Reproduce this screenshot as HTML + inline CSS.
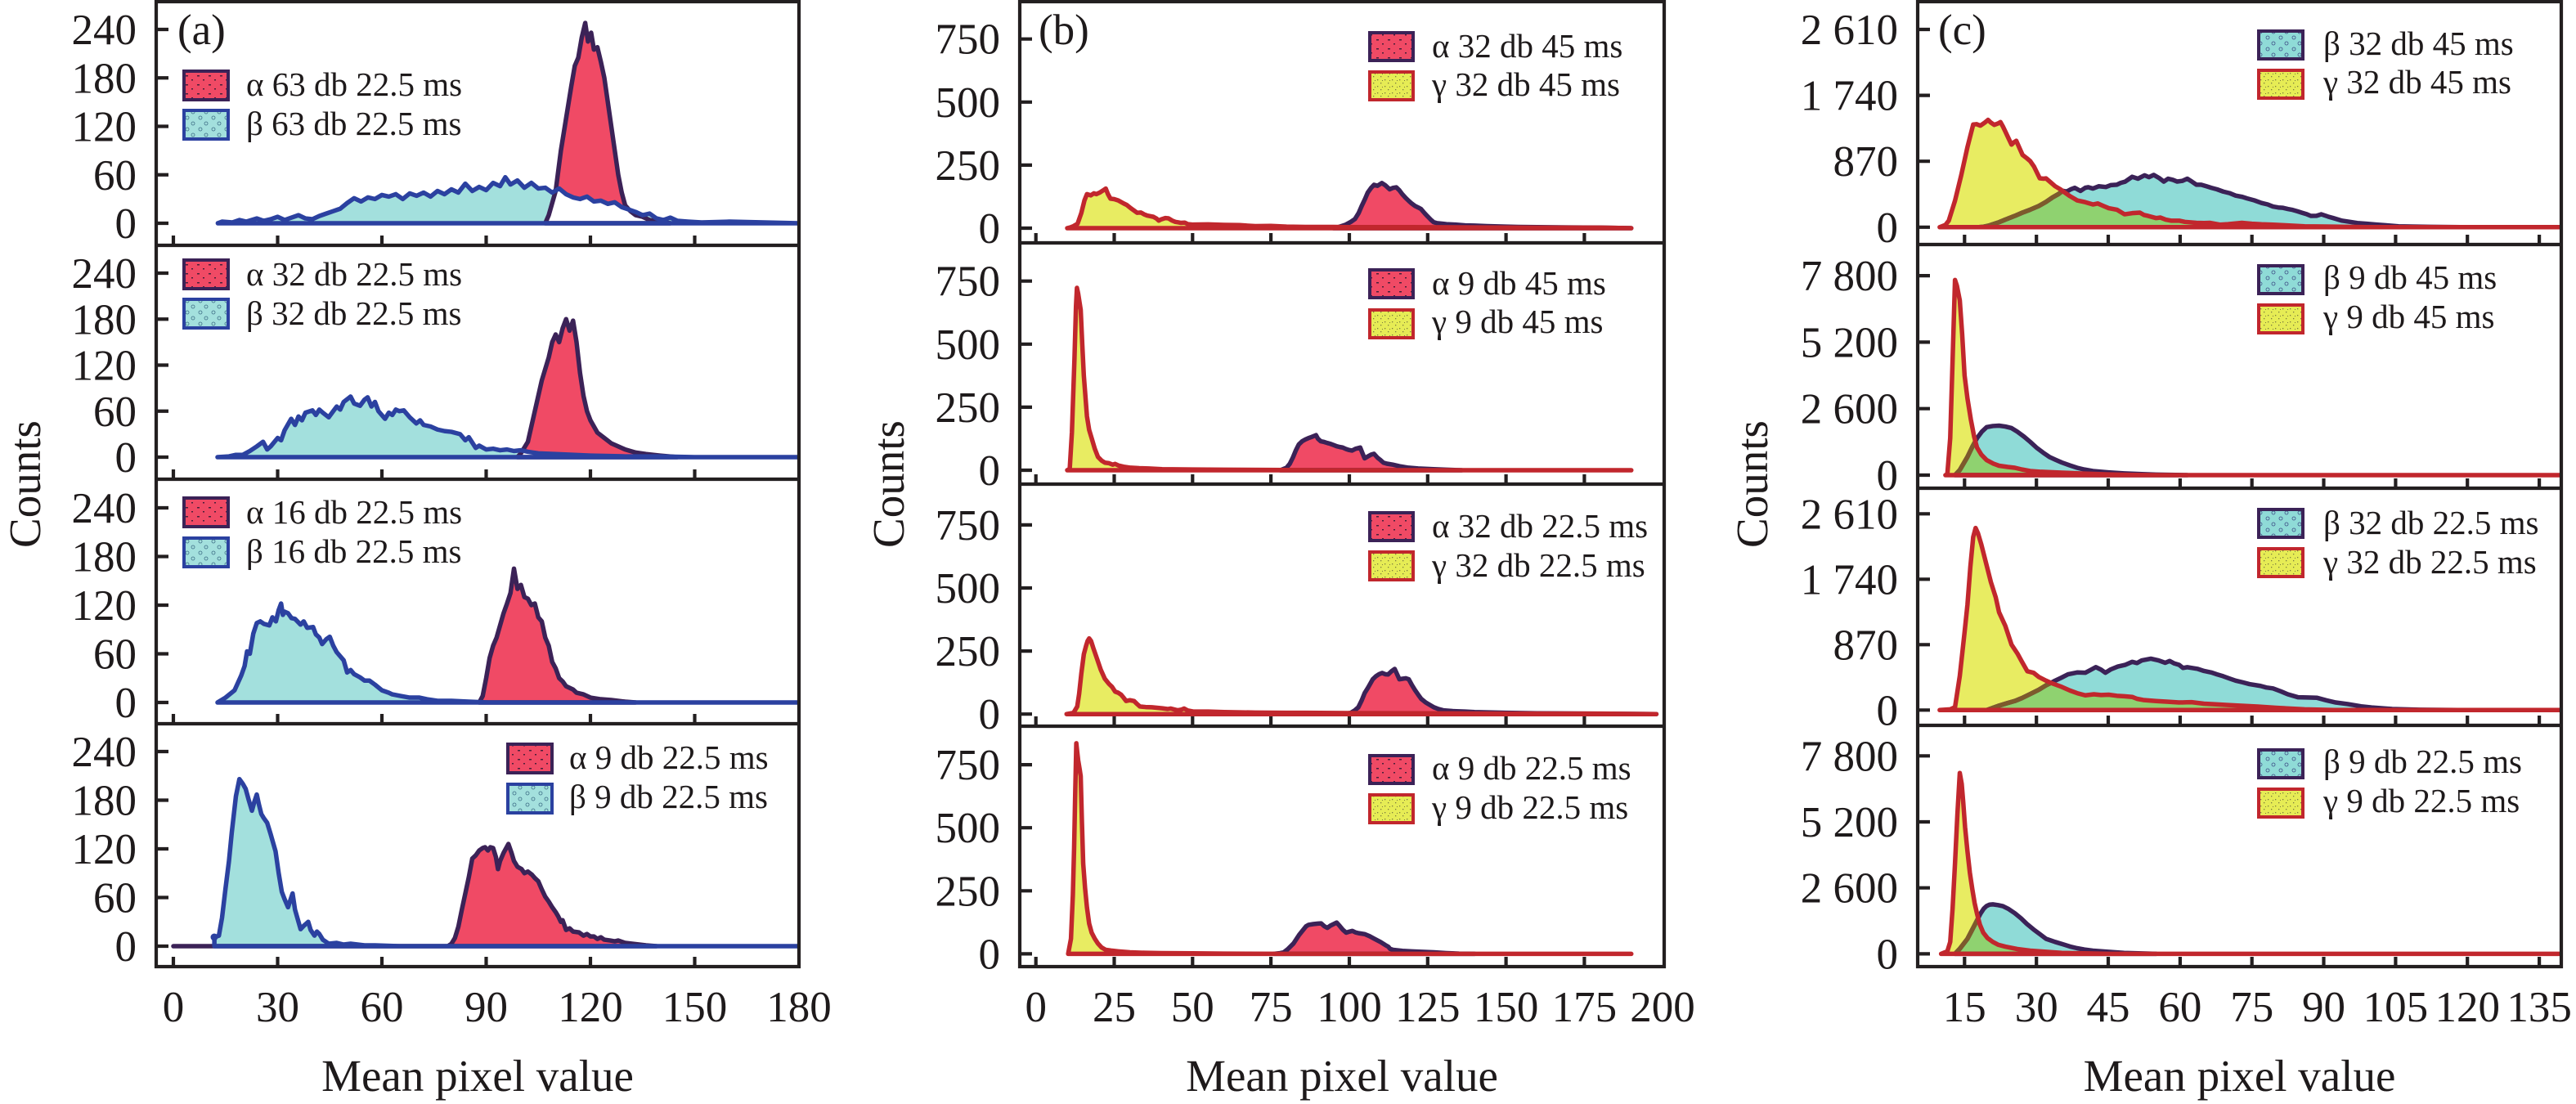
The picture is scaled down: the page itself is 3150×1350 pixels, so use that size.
<!DOCTYPE html>
<html>
<head>
<meta charset="utf-8">
<style>
html,body{margin:0;padding:0;background:#fff;}
svg{display:block;}
text{font-family:"Liberation Serif","DejaVu Serif",serif;fill:#1e1a1b;}
</style>
</head>
<body>
<svg xmlns="http://www.w3.org/2000/svg" width="3150" height="1350" viewBox="0 0 3150 1350">
<defs>
  <pattern id="pRed" width="14" height="11" patternUnits="userSpaceOnUse">
    <rect width="14" height="11" fill="#f04a65"/>
    <rect x="3" y="4" width="3" height="1.5" fill="#4a1f3a"/>
    <rect x="10" y="9" width="2" height="1.5" fill="#4a1f3a"/>
  </pattern>
  <pattern id="pTeal" width="16" height="14" patternUnits="userSpaceOnUse">
    <rect width="16" height="14" fill="#a3e0dd"/>
    <circle cx="5" cy="4" r="2" fill="none" stroke="#3d6d86" stroke-width="0.8"/>
    <circle cx="12" cy="11" r="2" fill="none" stroke="#3d6d86" stroke-width="0.8"/>
  </pattern>
  <pattern id="pTeal2" width="16" height="14" patternUnits="userSpaceOnUse">
    <rect width="16" height="14" fill="#8fdbd7"/>
    <circle cx="5" cy="4" r="2" fill="none" stroke="#3d4d86" stroke-width="0.8"/>
    <circle cx="12" cy="11" r="2" fill="none" stroke="#3d4d86" stroke-width="0.8"/>
  </pattern>
  <pattern id="pYel" width="9" height="8" patternUnits="userSpaceOnUse">
    <rect width="9" height="8" fill="#e6ec55"/>
    <rect x="1" y="1" width="1.3" height="1.3" fill="#7a7a40"/>
    <rect x="5" y="5" width="1.3" height="1.3" fill="#7a7a40"/>
    <rect x="7" y="2" width="1" height="1" fill="#7a7a40"/>
  </pattern>

  <!-- panel a series -->
  <polygon id="A1b" vector-effect="non-scaling-stroke" stroke-width="5.5" stroke-linejoin="round" points="12.8,0 14,2 17,1 19,4 21,2 24,6 26,3 28,5 30,8 32,4 34,7 36,10 38,6 40,5 42,9 44,12 46,15 48,18 50,25 52,31 54,27 56,32 58,30 60,35 62,33 64,36 66,30 68,37 70,34 72,38 74,33 76,40 78,36 80,42 82,38 84,49 86,40 88,45 90,41 92,50 94,46 95.5,57 97,48 99,53 101,44 103,50 105,43 107,44 109,38 111,43 113,36 115,32 117,30 119,33 121,27 123,28 125,24 127,26 129,20 131,17 133,14 135,10 137,12 139,6 141,4 143,7 145,3 148,2 152,1 160,2 170,1 180,0"/>
  <polygon id="A1a" vector-effect="non-scaling-stroke" stroke-width="5.5" stroke-linejoin="round" points="107,0 108,10 110,40 111.5,90 113,130 114.5,170 115.5,195 116.5,205 117.5,230 118.5,248 119.3,225 120.2,236 121,215 122,218 123,200 124,180 125,150 126,120 127,90 128,60 129,38 130,22 131.5,15 133,10 135,8 137,4 140,2 143,0"/>
  <polygon id="A2b" vector-effect="non-scaling-stroke" stroke-width="5.5" stroke-linejoin="round" points="12.7,0 16,1 18,3 20,3 22,8 24,14 25.8,20 27,10 28,14 30,25 31,22 32,35 33.9,50 35,42 36,53 37,48 38,58 40,61 41,55 42,62 43,58 44.7,52 46,60 47,66 48,62 49,72 51,79 52,70 53.7,67 55,75 55.9,78 57,66 58,72 59,60 60.9,50 62,58 63,55 64,62 65,60 66.3,61 68,52 69.9,44 71,48 72,42 74,40 76,36 78,34 80,33 82.5,30 84,22 85,26 87,12 88,15 90,10 92,11 94,9 96,10 98,8 100,9 102,7 105,5 110,4 120,2 130,1 140,1 150,0 180,0"/>
  <polygon id="A2a" vector-effect="non-scaling-stroke" stroke-width="5.5" stroke-linejoin="round" points="99,0 100,5 102,20 104,60 106,100 108,130 109,150 110,160 111,150 112,168 113,180 114,165 115,178 116,150 117,110 118,80 119,60 120,48 121,40 122,32 124,25 126,18 128,14 130,10 133,6 136,4 140,2 145,0"/>
  <polygon id="A3b" vector-effect="non-scaling-stroke" stroke-width="5.5" stroke-linejoin="round" points="12.7,0 15,6 17.6,15 19.5,33 20.5,45 21.2,63 22,60 23,85 24,98 25,100 26,97 27.6,95 28.5,105 29.5,100 30.3,114 31,122 31.5,108 32,112 33,110 34,104 35,103 36.6,96 37.5,100 38.5,92 40.2,93 41,84 42,80 42.8,72 44,78 45,81 46,70 47,62 49,52 50,37 51,40 52,35 53.7,31 55,27 56.4,27 58,22 60,15 62,12 63,10 65.4,8 68,6 70.8,6 73,4 76,2 80,2 85,1 90.6,0 180,0"/>
  <polygon id="A3a" vector-effect="non-scaling-stroke" stroke-width="5.5" stroke-linejoin="round" points="88,0 89,8 90,30 91,55 92,70 93,80 94,95 95,110 96,122 97,135 98,165 99,140 100,145 101,130 102,128 103,120 104,122 105,105 106,100 107,80 108,70 109,50 110,42 111,30 112,26 113,20 115,16 116,12 118,10 120,6 123,4 126,3 130,1 133,0"/>
  <polygon id="A4b" vector-effect="non-scaling-stroke" stroke-width="5.5" stroke-linejoin="round" points="11.8,0 11.8,11 13.1,13 14,35 15,71 16,105 16.8,140 18,185 19,206 20,200 20.8,194 21.7,180 22.6,167 23.3,178 24,187 24.6,175 25.3,163 26,158 27,152 28,138 29.4,117 30.3,90 31.2,67 32,58 33,48 34.3,65 35,45 36,30 36.6,21 37.5,25 38.8,30 39.5,20 40.6,13 41.3,18 42,15 43,8 44.7,3 47,4 49,2 51,3 55,1 58,1 65,0 180,0"/>
  <polygon id="A4a" vector-effect="non-scaling-stroke" stroke-width="5.5" stroke-linejoin="round" points="0,0 79,0 80,3 81,10 82,24 83,45 84,65 85,85 86,108 87,112 88,118 89,121 89.7,122 90.5,118 91.2,122 92,121 92.8,110 93.4,95 94,105 95,115 96.4,126 97.3,115 98,105 99,98 100.2,95 101,90 102,92 103.2,88 104,84 105,80 106,70 107,61 108,55 109,48 110,42 110.7,37 111.5,30 112,32 113,20 114,22 115,18 116.7,17 118,13 119,15 120,12 121,12 122,9 123,11 124,8 125.7,7 127,6 128,7 130,4 132,3 134,2 136,1 139,0"/>

  <!-- panel b series -->
  <polygon id="B1g" vector-effect="non-scaling-stroke" stroke-width="5.5" stroke-linejoin="round" points="10,0 11,3 12,8 13.3,17.5 14.5,60 15.5,110 16.3,135 17.5,130 18.5,138 19.3,135 20.5,142 21.5,150 22.3,157 23,135 23.8,117 25,115 26.3,110 27,105 28,98 29,92 30.3,79 31.3,70 32.3,61 33.5,62 34.5,55 35.5,50 36.3,48 37.5,45 38.5,38 39.2,30 40,35 41.3,40 42.3,39 43.5,30 44.5,25 45.5,23 46.3,21 47.5,22 48.5,16 50.2,14 55,15 60,13 65,12 70,8 75,9 80,6 86,5 95,5 100,4 110,4 120,4 140,3 160,2 180,2 190,0"/>
  <polygon id="B1a" vector-effect="non-scaling-stroke" stroke-width="5.5" stroke-linejoin="round" points="95,0 97,6 98.9,14 100.5,25 101.8,36 103,60 103.9,86 105,115 105.9,141 107,160 107.9,172 109,168 110.4,179 111.5,170 112.9,154 114,160 115,162 116,150 116.9,135 118,120 119,108 119.9,98 121,88 122,82 122.9,76 124,60 124.9,48 126,34 126.9,24 128,20 129.9,17.5 131,16 133.8,14 137,11 140,10 143.9,8 150,6 153.9,5 160,4 170,3 180,2 190,0"/>
  <polygon id="B2g" vector-effect="non-scaling-stroke" stroke-width="5.5" stroke-linejoin="round" points="10,0 10.8,5 11.5,150 12.3,437 12.8,650 13.1,723 13.5,700 14.3,636 14.8,500 15.3,375 16.3,214 17,160 17.8,127 18.8,85 19.8,53 21,38 22,30 23.3,28 24.5,22 25.3,25 26.3,19 28,14 30.2,10 33,8 36,7 40.3,4 50,3 60,2 80,1 90,0 190,0"/>
  <polygon id="B2a" vector-effect="non-scaling-stroke" stroke-width="5.5" stroke-linejoin="round" points="78,0 80,10 81,25 82,50 83,80 83.9,102 85,115 86,122 86.9,127 88,132 89.4,139 90,125 90.9,115 92,112 93,108 93.9,105 95,100 96,95 97,92 97.9,90 99,84 100,80 100.9,78 102,85 103.5,90 104.2,68 104.9,47 106,55 107,62 107.9,65 109,50 110,40 110.9,30 112,26 113,24 113.9,22 116,16 118.9,10 122,7 126.9,4 131,2 135.9,0"/>
  <polygon id="B3g" vector-effect="non-scaling-stroke" stroke-width="5.5" stroke-linejoin="round" points="9.8,0 12,5 13.2,30 13.8,80 14.5,160 15.3,237 16,270 16.5,290 17,300 17.6,290 18.3,263 19.5,220 20.7,176 22,140 23.3,120 24.3,108 25.3,89 26.2,85 27.2,77 28,65 28.8,52 30,55 31.3,52 32.3,40 33.2,30 35,28 37,27 40.3,23 42,20 43,22 45.2,15 46.5,18 47.3,22 48.5,14 50.2,10 55,10 60,8 70,6 80,5 86,5 100,4 120,3 150,2 180,2 198,0"/>
  <polygon id="B3a" vector-effect="non-scaling-stroke" stroke-width="5.5" stroke-linejoin="round" points="98,0 100.5,5 101.8,15 102.9,27 104,55 104.9,83 106,105 107.5,138 108.5,150 109.5,158 110.5,163 111.5,158 112.4,157 113.5,170 114.5,179 115.2,160 116,138 117,140 118,142 119,138 120,115 121,95 122,77 123,60 124.4,46 125.5,38 127,27 128.5,20 130,15 133,12 137,10 140,8 150,5 160,3 175,2 198,0"/>
  <polygon id="B4g" vector-effect="non-scaling-stroke" stroke-width="5.5" stroke-linejoin="round" points="10.3,0 11.2,60 11.8,233 12.2,420 12.5,605 12.9,835 13.2,800 13.5,767 14,730 14.3,705 14.7,520 15.1,358 15.7,260 16.3,184 17,120 17.8,84 18.8,60 19.8,41 21,25 22.3,16 24,13 26.3,10 30,6 35,4 40,3 50,2 60,1 80,0 190,0"/>
  <polygon id="B4a" vector-effect="non-scaling-stroke" stroke-width="5.5" stroke-linejoin="round" points="76,0 78,3 79.1,6 80.5,20 82.2,41 84,75 86.2,109 87,115 88.5,118 90,120 91,121 92,110 93,103 94,112 95,118 96,124 97,110 98,95 99,84 100,88 101,91 102,85 103,82 105,78 106.5,70 108,60 110,47 111.5,35 112.5,28 113,20 114,16 115.5,14 117,12 120,10 123,8 127,6 131,3 135,1 140,0"/>

  <!-- panel c series -->
  <polygon id="C1g" vector-effect="non-scaling-stroke" stroke-width="5.5" stroke-linejoin="round" points="9.8,0 11,30 11.7,86 13,350 14.3,685 15.6,1057 16.8,1355 17.5,1360 18.3,1340 19.2,1380 19.9,1416 20.5,1380 21.2,1350 22,1370 22.5,1387 23,1330 23.5,1264 24.2,1170 24.8,1090 25.3,1120 25.8,1140 26.5,1040 27.1,954 28,910 28.7,872 29.5,800 30.7,645 31.5,640 32,644 33,590 33.9,541 35,500 35.9,458 37,410 38.5,354 40.2,330 41.8,300 42.8,313 44,280 45.1,251 46.8,231 48.4,170 50,185 51.6,192 52.5,160 53.3,149 55,120 55.9,127 57,100 58.1,86 59.8,86 61,70 63.4,57 65,55 66.3,57 68.3,33 70,40 72.9,57 75,45 77,38 79.4,33 82,25 86,12 90,8 95,4 99,0 141,0"/>
  <polygon id="C1b" vector-effect="non-scaling-stroke" stroke-width="5.5" stroke-linejoin="round" points="18,0 18.9,5 20,20 22.2,66 23.5,100 25.5,149 27,190 28.7,231 30.5,280 32,334 33.3,390 34.6,437 35.5,480 36.3,470 37.2,500 38,520 39.2,478 40.2,520 40.8,528 41.8,510 43,540 44.5,530 45.5,555 46.8,561 47.6,585 48.5,600 50,665 51.2,640 52.6,685 53.5,660 54.5,690 55.6,650 56.6,602 57.5,640 58.5,625 59.4,602 60.5,612 61.5,640 62.5,600 63.4,561 64.4,561 65.5,540 66.5,520 67.7,500 69,470 70.3,450 71.6,417 73,400 74,380 75.5,354 77,320 78.3,300 79.4,272 80.5,260 81.5,255 82.5,240 83.3,231 84.5,210 85.5,190 86.5,170 87.3,149 88.5,150 89.5,170 90.9,140 92,120 93.8,86 95.5,70 97,55 99,45 101,35 103,25 105.6,12 108,8 112,4 118.6,0"/>
  <polygon id="C2g" vector-effect="non-scaling-stroke" stroke-width="5.5" stroke-linejoin="round" points="11,0 11.4,40 12,1446 12.5,4500 13,7630 13.4,7400 14,6833 14.5,5500 15,3896 15.6,3000 16.3,2182 17,1500 17.6,1078 18.5,800 19.6,589 21,450 22.2,368 24,320 25.5,288 27,220 28.7,160 31,130 35.3,96 40,60 45,30 50,10 55,0 141,0"/>
  <polygon id="C2b" vector-effect="non-scaling-stroke" stroke-width="5.5" stroke-linejoin="round" points="13,0 14,200 15.6,713 16.6,1100 17.6,1446 18.6,1700 19.6,1875 20.9,1920 22.2,1935 23.5,1900 24.8,1839 26,1700 27.4,1507 28.7,1300 30,1078 31.4,880 32.7,713 34,600 35.3,493 37,380 38.5,288 40,220 41.8,160 45,110 48.3,70 52,40 55,20 61.5,0"/>
  <polygon id="C3g" vector-effect="non-scaling-stroke" stroke-width="5.5" stroke-linejoin="round" points="9.8,0 12,10 13,38 14,454 15,1036 15.6,1400 16.2,1900 16.8,2300 17.3,2420 17.8,2350 18.5,2200 19.5,1950 20.5,1700 21.5,1500 22.2,1300 23.5,1120 24.8,870 26.1,745 27,640 28.1,516 29.4,496 30.5,440 32,391 33.5,350 35.3,308 37,260 38.5,225 40.2,196 42,210 43.5,200 45.1,204 46.8,190 48.3,184 50,175 51,150 52.3,134 55,120 57.5,110 59.8,101 61.4,104 62.4,105 65,85 67,78 69.6,68 72,60 76.2,47 80,30 86,10 92,0 141,0"/>
  <polygon id="C3b" vector-effect="non-scaling-stroke" stroke-width="5.5" stroke-linejoin="round" points="19.6,0 22.2,59 23.8,90 25.5,121 27,160 28.7,213 30.5,270 32,329 33,360 33.9,391 35.2,430 36.6,475 38.5,500 40.2,496 41.5,540 42.4,571 43.5,537 44.4,496 45.5,540 47,579 48.5,600 50,641 51,625 52,660 53.9,683 55.5,660 56.9,628 57.8,653 58.8,620 59.8,601 60.6,560 61.5,570 62.5,560 63.7,547 65,520 66.5,500 67.7,475 69,450 70.3,420 71.6,391 73,370 74.5,345 76.8,321 78,300 79.4,288 81,250 82.5,210 84.6,171 86.5,168 88.6,163 90.5,130 92.5,101 95,80 97.8,50 100,35 104.3,14 110,5 118,0"/>
  <polygon id="C4g" vector-effect="non-scaling-stroke" stroke-width="5.5" stroke-linejoin="round" points="10.1,0 11.4,100 12,470 12.5,1800 13,3558 13.5,5500 14,7128 14.4,6700 14.7,6020 15.1,5000 15.6,4044 16.1,3200 16.6,2565 17.1,2000 17.6,1579 18.2,1150 18.9,838 19.8,620 20.9,470 22,360 23.5,284 26,190 28.7,126 32,80 35.3,39 40,20 45,0 141,0"/>
  <polygon id="C4b" vector-effect="non-scaling-stroke" stroke-width="5.5" stroke-linejoin="round" points="13,0 14,200 15.6,593 17,1100 18.3,1579 19,1780 19.6,1888 20.2,1940 20.9,1950 22,1920 23,1880 24.2,1766 25.5,1600 26.8,1398 28,1180 29.4,963 30.7,780 32,593 33,530 33.9,470 35.5,380 37,290 38.5,222 40,170 41.8,126 45,80 48.3,39 52,15 55,0"/>

  <clipPath id="oA1"><use href="#A1b"/></clipPath>
  <clipPath id="oA2"><use href="#A2b"/></clipPath>
  <clipPath id="oA3"><use href="#A3b"/></clipPath>
  <clipPath id="oA4"><use href="#A4b"/></clipPath>
  <clipPath id="oC1"><use href="#C1g"/></clipPath>
  <clipPath id="oC2"><use href="#C2g"/></clipPath>
  <clipPath id="oC3"><use href="#C3g"/></clipPath>
  <clipPath id="oC4"><use href="#C4g"/></clipPath>

  <clipPath id="fa1"><rect x="191" y="2" width="786" height="298"/></clipPath>
  <clipPath id="fa2"><rect x="191" y="300" width="786" height="286"/></clipPath>
  <clipPath id="fa3"><rect x="191" y="586" width="786" height="299"/></clipPath>
  <clipPath id="fa4"><rect x="191" y="885" width="786" height="297"/></clipPath>
  <clipPath id="fb1"><rect x="1247" y="2" width="788" height="295"/></clipPath>
  <clipPath id="fb2"><rect x="1247" y="297" width="788" height="295"/></clipPath>
  <clipPath id="fb3"><rect x="1247" y="592" width="788" height="296"/></clipPath>
  <clipPath id="fb4"><rect x="1247" y="888" width="788" height="294"/></clipPath>
  <clipPath id="fc1"><rect x="2345" y="2" width="787" height="297"/></clipPath>
  <clipPath id="fc2"><rect x="2345" y="299" width="787" height="298"/></clipPath>
  <clipPath id="fc3"><rect x="2345" y="597" width="787" height="290"/></clipPath>
  <clipPath id="fc4"><rect x="2345" y="887" width="787" height="295"/></clipPath>
</defs>

<rect width="3150" height="1350" fill="#fff"/>

<!-- PANEL A -->
<g clip-path="url(#fa1)"><g transform="translate(212,273) scale(4.25,-0.9875)">
  <use href="#A1b" fill="#a3e0dd"/>
  <use href="#A1a" fill="#f04a65"/>
  <use href="#A1a" fill="#ffffff" clip-path="url(#oA1)"/>
  <use href="#A1a" fill="none" stroke="#3b2257"/>
  <use href="#A1b" fill="none" stroke="#2b41a0"/>
</g></g>
<g clip-path="url(#fa2)"><g transform="translate(212,559) scale(4.25,-0.9375)">
  <use href="#A2b" fill="#a3e0dd"/>
  <use href="#A2a" fill="#f04a65"/>
  <use href="#A2a" fill="#ffffff" clip-path="url(#oA2)"/>
  <use href="#A2a" fill="none" stroke="#3b2257"/>
  <use href="#A2b" fill="none" stroke="#2b41a0"/>
</g></g>
<g clip-path="url(#fa3)"><g transform="translate(212,859) scale(4.25,-0.9917)">
  <use href="#A3b" fill="#a3e0dd"/>
  <use href="#A3a" fill="#f04a65"/>
  <use href="#A3a" fill="#ffffff" clip-path="url(#oA3)"/>
  <use href="#A3a" fill="none" stroke="#3b2257"/>
  <use href="#A3b" fill="none" stroke="#2b41a0"/>
</g></g>
<g clip-path="url(#fa4)"><g transform="translate(212,1157) scale(4.25,-0.9917)">
  <use href="#A4b" fill="#a3e0dd"/>
  <use href="#A4a" fill="#f04a65"/>
  <use href="#A4a" fill="#ffffff" clip-path="url(#oA4)"/>
  <use href="#A4a" fill="none" stroke="#3b2257"/>
  <use href="#A4b" fill="none" stroke="#2b41a0"/>
</g></g>
<circle cx="262" cy="1146" r="4.5" fill="#2b41a0"/>

<!-- PANEL B -->
<g clip-path="url(#fb1)"><g transform="translate(1266.7,279) scale(3.832,-0.3084)">
  <use href="#B1a" fill="#f04a65"/>
  <use href="#B1g" fill="#e8ec62"/>
  <use href="#B1a" fill="none" stroke="#3b2257"/>
  <use href="#B1g" fill="none" stroke="#c1272d"/>
</g></g>
<g clip-path="url(#fb2)"><g transform="translate(1266.7,575) scale(3.832,-0.3084)">
  <use href="#B2a" fill="#f04a65"/>
  <use href="#B2g" fill="#e8ec62"/>
  <use href="#B2a" fill="none" stroke="#3b2257"/>
  <use href="#B2g" fill="none" stroke="#c1272d"/>
</g></g>
<g clip-path="url(#fb3)"><g transform="translate(1266.7,873.2) scale(3.832,-0.3084)">
  <use href="#B3a" fill="#f04a65"/>
  <use href="#B3g" fill="#e8ec62"/>
  <use href="#B3a" fill="none" stroke="#3b2257"/>
  <use href="#B3g" fill="none" stroke="#c1272d"/>
</g></g>
<g clip-path="url(#fb4)"><g transform="translate(1266.7,1166.4) scale(3.832,-0.3084)">
  <use href="#B4a" fill="#f04a65"/>
  <use href="#B4g" fill="#e8ec62"/>
  <use href="#B4a" fill="none" stroke="#3b2257"/>
  <use href="#B4g" fill="none" stroke="#c1272d"/>
</g></g>

<!-- PANEL C -->
<g clip-path="url(#fc1)"><g transform="translate(2314.5,277.8) scale(5.856,-0.09264)">
  <use href="#C1b" fill="#8fdbd7"/>
  <use href="#C1g" fill="#e8ec62"/>
  <use href="#C1b" fill="#8fd270" clip-path="url(#oC1)"/>
  <use href="#C1b" fill="none" stroke="#3b2257"/>
  <use href="#C1b" fill="none" stroke="#7d5a2c" clip-path="url(#oC1)"/>
  <use href="#C1g" fill="none" stroke="#c1272d"/>
</g></g>
<g clip-path="url(#fc2)"><g transform="translate(2314.5,581) scale(5.856,-0.03128)">
  <use href="#C2b" fill="#8fdbd7"/>
  <use href="#C2g" fill="#e8ec62"/>
  <use href="#C2b" fill="#8fd270" clip-path="url(#oC2)"/>
  <use href="#C2b" fill="none" stroke="#3b2257"/>
  <use href="#C2b" fill="none" stroke="#7d5a2c" clip-path="url(#oC2)"/>
  <use href="#C2g" fill="none" stroke="#c1272d"/>
</g></g>
<g clip-path="url(#fc3)"><g transform="translate(2314.5,868.3) scale(5.856,-0.092)">
  <use href="#C3b" fill="#8fdbd7"/>
  <use href="#C3g" fill="#e8ec62"/>
  <use href="#C3b" fill="#8fd270" clip-path="url(#oC3)"/>
  <use href="#C3b" fill="none" stroke="#3b2257"/>
  <use href="#C3b" fill="none" stroke="#7d5a2c" clip-path="url(#oC3)"/>
  <use href="#C3g" fill="none" stroke="#c1272d"/>
</g></g>
<g clip-path="url(#fc4)"><g transform="translate(2314.5,1166.4) scale(5.856,-0.03103)">
  <use href="#C4b" fill="#8fdbd7"/>
  <use href="#C4g" fill="#e8ec62"/>
  <use href="#C4b" fill="#8fd270" clip-path="url(#oC4)"/>
  <use href="#C4b" fill="none" stroke="#3b2257"/>
  <use href="#C4b" fill="none" stroke="#7d5a2c" clip-path="url(#oC4)"/>
  <use href="#C4g" fill="none" stroke="#c1272d"/>
</g></g>

<!-- FRAMES & TICKS -->
<g fill="none" stroke="#231f20" stroke-width="4.2">
  <rect x="191" y="2" width="786" height="1180"/>
  <path d="M191,300H977M191,586H977M191,885H977"/>
  <path d="M191,273h15M191,213.75h15M191,154.5h15M191,95.25h15M191,36h15
           M191,559h15M191,502.75h15M191,446.5h15M191,390.25h15M191,334h15
           M191,859h15M191,799.5h15M191,740h15M191,680.5h15M191,621h15
           M191,1157h15M191,1097.5h15M191,1038h15M191,978.5h15M191,919h15"/>
  <path d="M212,300v-12M339.5,300v-12M467,300v-12M594.5,300v-12M722,300v-12M849.5,300v-12
           M212,586v-12M339.5,586v-12M467,586v-12M594.5,586v-12M722,586v-12M849.5,586v-12
           M212,885v-12M339.5,885v-12M467,885v-12M594.5,885v-12M722,885v-12M849.5,885v-12
           M212,1182v-12M339.5,1182v-12M467,1182v-12M594.5,1182v-12M722,1182v-12M849.5,1182v-12"/>

  <rect x="1247" y="2" width="788" height="1180"/>
  <path d="M1247,297H2035M1247,592H2035M1247,888H2035"/>
  <path d="M1247,279h15M1247,201.9h15M1247,124.8h15M1247,47.7h15
           M1247,575h15M1247,497.9h15M1247,420.8h15M1247,343.7h15
           M1247,873.2h15M1247,796.1h15M1247,719h15M1247,641.9h15
           M1247,1166.4h15M1247,1089.3h15M1247,1012.2h15M1247,935.1h15"/>
  <path d="M1266.7,297v-12M1362.5,297v-12M1458.3,297v-12M1554.1,297v-12M1650,297v-12M1745.8,297v-12M1841.6,297v-12M1937.4,297v-12
           M1266.7,592v-12M1362.5,592v-12M1458.3,592v-12M1554.1,592v-12M1650,592v-12M1745.8,592v-12M1841.6,592v-12M1937.4,592v-12
           M1266.7,888v-12M1362.5,888v-12M1458.3,888v-12M1554.1,888v-12M1650,888v-12M1745.8,888v-12M1841.6,888v-12M1937.4,888v-12
           M1266.7,1182v-12M1362.5,1182v-12M1458.3,1182v-12M1554.1,1182v-12M1650,1182v-12M1745.8,1182v-12M1841.6,1182v-12M1937.4,1182v-12"/>

  <rect x="2345" y="2" width="787" height="1180"/>
  <path d="M2345,299H3132M2345,597H3132M2345,887H3132"/>
  <path d="M2345,277.8h15M2345,197.2h15M2345,116.6h15M2345,36h15
           M2345,581h15M2345,499.7h15M2345,418.4h15M2345,337.1h15
           M2345,868.3h15M2345,788.3h15M2345,708.3h15M2345,628.3h15
           M2345,1166.4h15M2345,1085.7h15M2345,1005h15M2345,924.3h15"/>
  <path d="M2402.3,299v-12M2490.2,299v-12M2578,299v-12M2665.9,299v-12M2753.7,299v-12M2841.5,299v-12M2929.4,299v-12M3017.2,299v-12M3105.1,299v-12
           M2402.3,597v-12M2490.2,597v-12M2578,597v-12M2665.9,597v-12M2753.7,597v-12M2841.5,597v-12M2929.4,597v-12M3017.2,597v-12M3105.1,597v-12
           M2402.3,887v-12M2490.2,887v-12M2578,887v-12M2665.9,887v-12M2753.7,887v-12M2841.5,887v-12M2929.4,887v-12M3017.2,887v-12M3105.1,887v-12
           M2402.3,1182v-12M2490.2,1182v-12M2578,1182v-12M2665.9,1182v-12M2753.7,1182v-12M2841.5,1182v-12M2929.4,1182v-12M3017.2,1182v-12M3105.1,1182v-12"/>
</g>

<!-- Y TICK LABELS -->
<g font-size="53" text-anchor="end">
  <text x="167" y="291">0</text><text x="167" y="231.75">60</text><text x="167" y="172.5">120</text><text x="167" y="113.25">180</text><text x="167" y="54">240</text>
  <text x="167" y="577">0</text><text x="167" y="520.75">60</text><text x="167" y="464.5">120</text><text x="167" y="408.25">180</text><text x="167" y="352">240</text>
  <text x="167" y="877">0</text><text x="167" y="817.5">60</text><text x="167" y="758">120</text><text x="167" y="698.5">180</text><text x="167" y="639">240</text>
  <text x="167" y="1175">0</text><text x="167" y="1115.5">60</text><text x="167" y="1056">120</text><text x="167" y="996.5">180</text><text x="167" y="937">240</text>

  <text x="1223" y="297">0</text><text x="1223" y="219.9">250</text><text x="1223" y="142.8">500</text><text x="1223" y="65.7">750</text>
  <text x="1223" y="593">0</text><text x="1223" y="515.9">250</text><text x="1223" y="438.8">500</text><text x="1223" y="361.7">750</text>
  <text x="1223" y="891.2">0</text><text x="1223" y="814.1">250</text><text x="1223" y="737">500</text><text x="1223" y="659.9">750</text>
  <text x="1223" y="1184.4">0</text><text x="1223" y="1107.3">250</text><text x="1223" y="1030.2">500</text><text x="1223" y="953.1">750</text>

  <text x="2321" y="295.8">0</text><text x="2321" y="215.2">870</text><text x="2321" y="134.6">1 740</text><text x="2321" y="54">2 610</text>
  <text x="2321" y="599">0</text><text x="2321" y="517.7">2 600</text><text x="2321" y="436.4">5 200</text><text x="2321" y="355.1">7 800</text>
  <text x="2321" y="886.3">0</text><text x="2321" y="806.3">870</text><text x="2321" y="726.3">1 740</text><text x="2321" y="646.3">2 610</text>
  <text x="2321" y="1184.4">0</text><text x="2321" y="1103.7">2 600</text><text x="2321" y="1023">5 200</text><text x="2321" y="942.3">7 800</text>
</g>

<!-- X TICK LABELS -->
<g font-size="53" text-anchor="middle">
  <text x="212" y="1249">0</text><text x="339.5" y="1249">30</text><text x="467" y="1249">60</text><text x="594.5" y="1249">90</text><text x="722" y="1249">120</text><text x="849.5" y="1249">150</text><text x="977" y="1249">180</text>
  <text x="1266.7" y="1249">0</text><text x="1362.5" y="1249">25</text><text x="1458.3" y="1249">50</text><text x="1554.1" y="1249">75</text><text x="1650" y="1249">100</text><text x="1745.8" y="1249">125</text><text x="1841.6" y="1249">150</text><text x="1937.4" y="1249">175</text><text x="2033" y="1249">200</text>
  <text x="2402.3" y="1249">15</text><text x="2490.2" y="1249">30</text><text x="2578" y="1249">45</text><text x="2665.9" y="1249">60</text><text x="2753.7" y="1249">75</text><text x="2841.5" y="1249">90</text><text x="2929.4" y="1249">105</text><text x="3017.2" y="1249">120</text><text x="3105.1" y="1249">135</text>
</g>

<!-- AXIS LABELS -->
<g font-size="55" text-anchor="middle">
  <text x="584" y="1334">Mean pixel value</text>
  <text x="1641" y="1334">Mean pixel value</text>
  <text x="2738.5" y="1334">Mean pixel value</text>
  <text transform="translate(49,592) rotate(-90)">Counts</text>
  <text transform="translate(1105,592) rotate(-90)">Counts</text>
  <text transform="translate(2161,592) rotate(-90)">Counts</text>
</g>

<g font-size="53">
  <text x="217" y="54">(a)</text>
  <text x="1270" y="54">(b)</text>
  <text x="2370" y="54">(c)</text>
</g>

<!-- LEGENDS -->
<g stroke-width="4">
  <rect x="225" y="87" width="54" height="35" fill="url(#pRed)" stroke="#3b2257"/>
  <rect x="225" y="135" width="54" height="35" fill="url(#pTeal)" stroke="#2b41a0"/>
  <rect x="225" y="318" width="54" height="35" fill="url(#pRed)" stroke="#3b2257"/>
  <rect x="225" y="366" width="54" height="35" fill="url(#pTeal)" stroke="#2b41a0"/>
  <rect x="225" y="609" width="54" height="35" fill="url(#pRed)" stroke="#3b2257"/>
  <rect x="225" y="658" width="54" height="35" fill="url(#pTeal)" stroke="#2b41a0"/>
  <rect x="621" y="910" width="54" height="35" fill="url(#pRed)" stroke="#3b2257"/>
  <rect x="621" y="959" width="54" height="35" fill="url(#pTeal)" stroke="#2b41a0"/>

  <rect x="1675" y="40" width="53" height="34" fill="url(#pRed)" stroke="#3b2257"/>
  <rect x="1675" y="88" width="53" height="34" fill="url(#pYel)" stroke="#c1272d"/>
  <rect x="1675" y="330" width="53" height="34" fill="url(#pRed)" stroke="#3b2257"/>
  <rect x="1675" y="379" width="53" height="34" fill="url(#pYel)" stroke="#c1272d"/>
  <rect x="1675" y="627" width="53" height="34" fill="url(#pRed)" stroke="#3b2257"/>
  <rect x="1675" y="675" width="53" height="34" fill="url(#pYel)" stroke="#c1272d"/>
  <rect x="1675" y="924" width="53" height="34" fill="url(#pRed)" stroke="#3b2257"/>
  <rect x="1675" y="972" width="53" height="34" fill="url(#pYel)" stroke="#c1272d"/>

  <rect x="2762" y="38" width="54" height="34" fill="url(#pTeal2)" stroke="#3b2257"/>
  <rect x="2762" y="86" width="54" height="34" fill="url(#pYel)" stroke="#c1272d"/>
  <rect x="2762" y="325" width="54" height="34" fill="url(#pTeal2)" stroke="#3b2257"/>
  <rect x="2762" y="373" width="54" height="34" fill="url(#pYel)" stroke="#c1272d"/>
  <rect x="2762" y="623" width="54" height="34" fill="url(#pTeal2)" stroke="#3b2257"/>
  <rect x="2762" y="671" width="54" height="34" fill="url(#pYel)" stroke="#c1272d"/>
  <rect x="2762" y="917" width="54" height="34" fill="url(#pTeal2)" stroke="#3b2257"/>
  <rect x="2762" y="965" width="54" height="34" fill="url(#pYel)" stroke="#c1272d"/>
</g>
<g font-size="41">
  <text x="301" y="117">α 63 db 22.5 ms</text>
  <text x="301" y="165">β 63 db 22.5 ms</text>
  <text x="301" y="349">α 32 db 22.5 ms</text>
  <text x="301" y="397">β 32 db 22.5 ms</text>
  <text x="301" y="640">α 16 db 22.5 ms</text>
  <text x="301" y="688">β 16 db 22.5 ms</text>
  <text x="696" y="940">α 9 db 22.5 ms</text>
  <text x="696" y="988">β 9 db 22.5 ms</text>

  <text x="1751" y="70">α 32 db 45 ms</text>
  <text x="1751" y="117">γ 32 db 45 ms</text>
  <text x="1751" y="360">α 9 db 45 ms</text>
  <text x="1751" y="407">γ 9 db 45 ms</text>
  <text x="1751" y="657">α 32 db 22.5 ms</text>
  <text x="1751" y="705">γ 32 db 22.5 ms</text>
  <text x="1751" y="953">α 9 db 22.5 ms</text>
  <text x="1751" y="1001">γ 9 db 22.5 ms</text>

  <text x="2841" y="67">β 32 db 45 ms</text>
  <text x="2841" y="114">γ 32 db 45 ms</text>
  <text x="2841" y="353">β 9 db 45 ms</text>
  <text x="2841" y="401">γ 9 db 45 ms</text>
  <text x="2841" y="653">β 32 db 22.5 ms</text>
  <text x="2841" y="701">γ 32 db 22.5 ms</text>
  <text x="2841" y="945">β 9 db 22.5 ms</text>
  <text x="2841" y="993">γ 9 db 22.5 ms</text>
</g>
</svg>
</body>
</html>
